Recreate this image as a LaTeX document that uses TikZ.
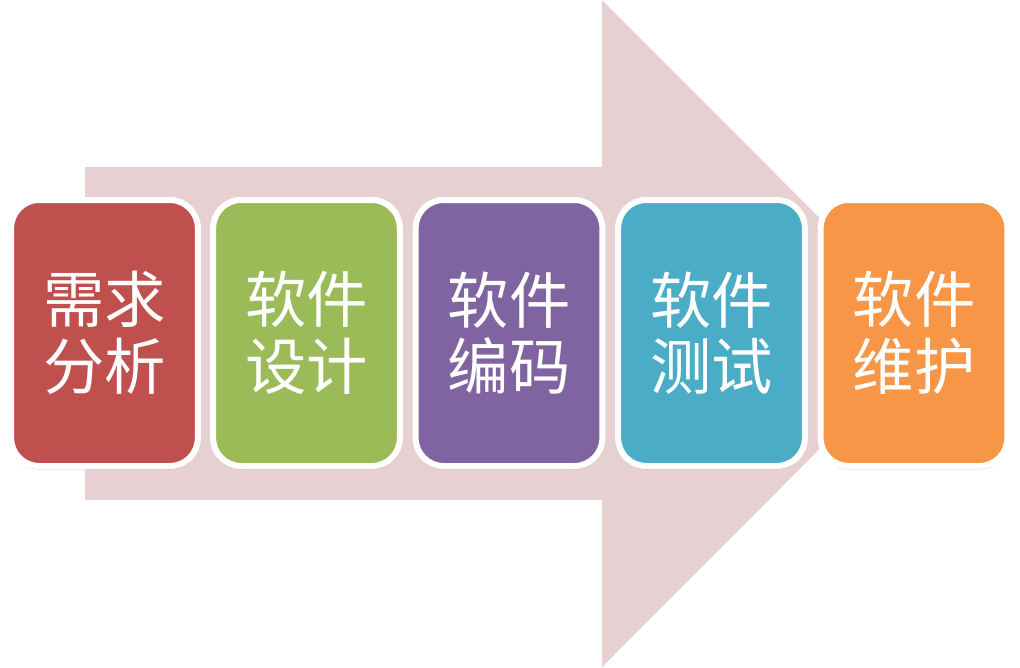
\documentclass[tikz,border=0pt]{standalone}
\usepackage{fontspec}
\newfontfamily\cjk{Noto Sans CJK SC}
\usetikzlibrary{shadows}
\definecolor{arrowpink}{RGB}{231,208,209}
\definecolor{cred}{RGB}{192,80,77}
\definecolor{cgreen}{RGB}{155,187,89}
\definecolor{cpurple}{RGB}{128,100,162}
\definecolor{caqua}{RGB}{75,172,198}
\definecolor{corange}{RGB}{247,150,70}
\tikzset{
  stagebox/.style={draw=white, line width=4.5pt, rounded corners=21pt,
    minimum width=140pt, minimum height=199.5pt, inner sep=0pt,
    text=white, align=center,
    font=\cjk\fontsize{46}{50}\selectfont,
    drop shadow={shadow xshift=0pt, shadow yshift=-2.5pt, opacity=0.35, fill=black!60}}
}
\begin{document}
\begin{tikzpicture}[x=0.75pt,y=-0.75pt]
\useasboundingbox (0,0) rectangle (1020,667);
\fill[arrowpink] (85,167) -- (602,167) -- (602,0) -- (935,333.5) -- (602,667) -- (602,500) -- (85,500) -- cycle;
\node[stagebox, fill=cred]    (s1) at (104.5,333) {需求\\分析};
\node[stagebox, fill=cgreen]  (s2) at (306.5,333) {软件\\设计};
\node[stagebox, fill=cpurple] (s3) at (509,333) {软件\\编码};
\node[stagebox, fill=caqua]   (s4) at (711.5,333) {软件\\测试};
\node[stagebox, fill=corange] (s5) at (914,333) {软件\\维护};
\end{tikzpicture}
\end{document}
